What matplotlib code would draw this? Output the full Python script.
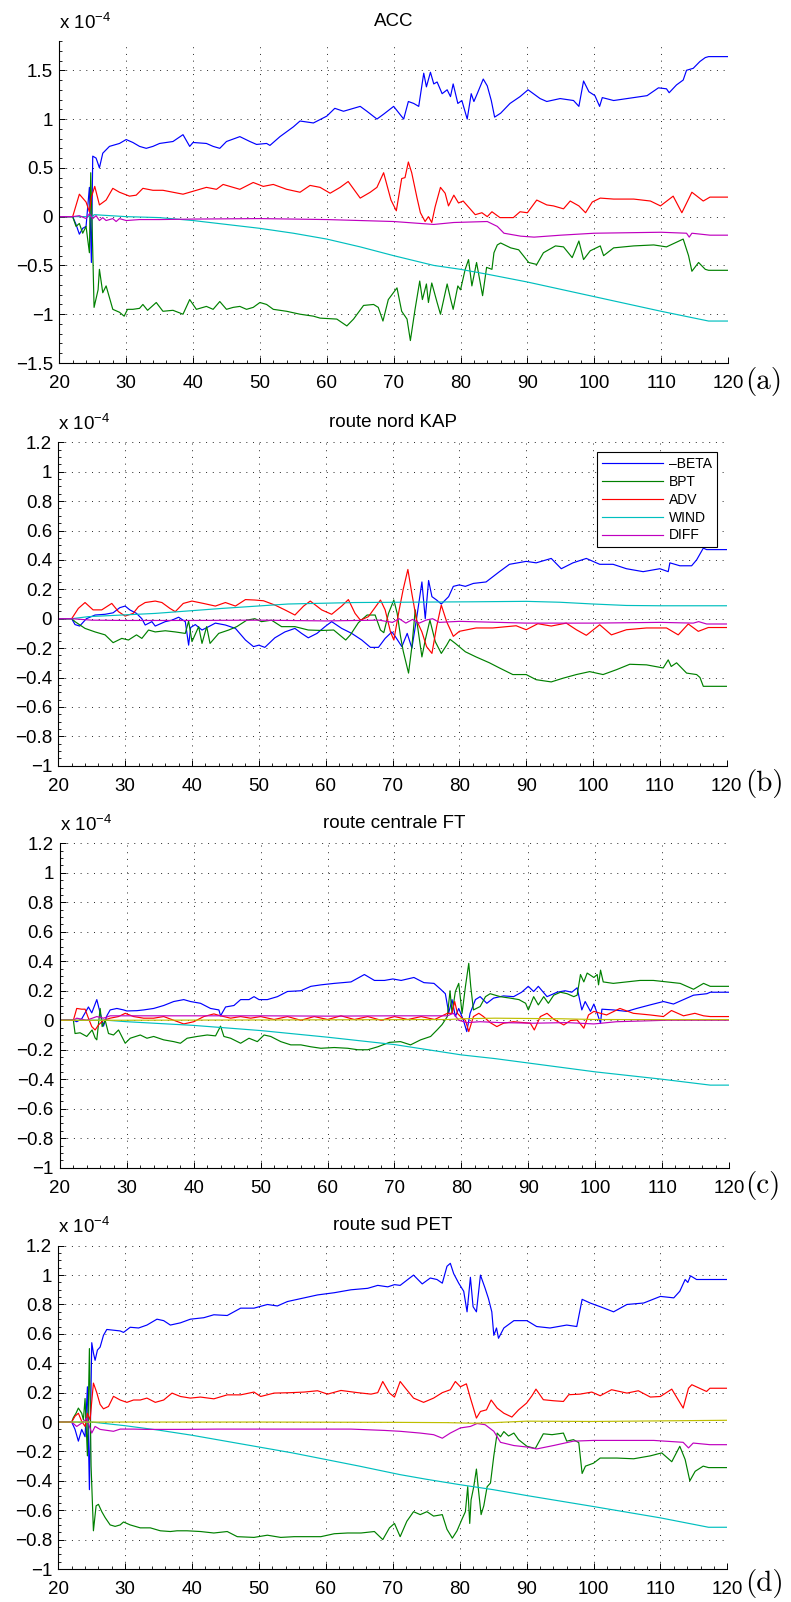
import numpy as np
import matplotlib
matplotlib.use('Agg')
import matplotlib.pyplot as plt
from matplotlib.ticker import FixedLocator, MultipleLocator, FuncFormatter

plt.rcParams['font.family'] = ['Liberation Sans', 'DejaVu Sans']
plt.rcParams['mathtext.fontset'] = 'custom'
plt.rcParams['mathtext.rm'] = 'Liberation Sans'
plt.rcParams['mathtext.it'] = 'Liberation Sans'

# values are in units of 1e-4, as (day, value) pairs
# ---- (a) ACC
acc_beta = [(20,0),(22,0),(22.5,-0.08),(23,-0.18),(23.5,-0.12),(24,-0.1),(24.5,0.3),(24.8,-0.47),(25,0.62),(25.5,0.6),(26,0.5),(26.5,0.65),(27.5,0.72),(29,0.75),(30,0.79),(31,0.76),(32,0.72),(33,0.7),(34,0.72),(35,0.75),(37,0.77),(38.5,0.84),(39.5,0.72),(40,0.76),(42,0.75),(43,0.72),(44,0.70),(45,0.77),(47,0.82),(48.5,0.77),(49.5,0.74),(51,0.75),(51.5,0.73),(53,0.82),(55,0.92),(56,0.98),(58,0.96),(60,1.03),(61.2,1.11),(62.5,1.08),(63.5,1.1),(65,1.13),(66,1.08),(67.5,1.0),(68.5,1.05),(70,1.13),(71.5,1.0),(72.2,1.18),(73,1.16),(73.75,1.13),(74.5,1.47),(74.9,1.33),(75.5,1.48),(76,1.36),(76.5,1.38),(77.25,1.26),(78,1.30),(78.5,1.23),(78.9,1.36),(79.6,1.16),(80.2,1.19),(81,1.0),(81.6,1.26),(82,1.18),(82.5,1.26),(83.4,1.41),(84,1.34),(84.6,1.19),(85.1,1.02),(86,1.06),(87.4,1.16),(88.9,1.23),(90.1,1.30),(91.9,1.21),(92.9,1.18),(94.9,1.21),(96.9,1.19),(97.7,1.13),(98.4,1.39),(99.2,1.28),(100.1,1.24),(100.8,1.13),(101.2,1.22),(102.9,1.19),(105.9,1.22),(107.9,1.24),(109.6,1.32),(110.8,1.31),(111.2,1.27),(112.3,1.35),(113.3,1.40),(113.8,1.5),(114.8,1.52),(115.8,1.59),(116.6,1.63),(117.1,1.64),(120,1.64)]
acc_bpt = [(20,0),(22,0),(22.5,-0.1),(23,-0.07),(23.5,-0.17),(24,-0.1),(24.5,-0.37),(24.7,0.45),(25,-0.35),(25.2,-0.93),(25.8,-0.75),(26,-0.54),(26.5,-0.78),(27,-0.71),(28,-0.95),(29,-0.98),(29.7,-1.02),(30.2,-0.95),(31,-0.95),(32,-0.94),(32.5,-0.9),(33.2,-0.96),(34.5,-0.88),(35.5,-0.97),(37,-0.96),(38.5,-1.0),(39.5,-0.85),(40.5,-0.95),(42,-0.92),(43,-0.95),(44,-0.87),(45,-0.95),(46,-0.93),(47,-0.92),(48,-0.95),(49,-0.93),(50,-0.88),(51,-0.9),(52,-0.95),(54,-0.97),(56,-1.0),(58,-1.02),(59,-1.04),(61.5,-1.05),(63,-1.12),(64,-1.05),(65.5,-0.91),(67,-0.9),(67.7,-0.93),(68.4,-1.07),(69.2,-0.85),(70.5,-0.73),(71.2,-0.97),(72,-1.05),(72.5,-1.27),(73.2,-0.95),(73.9,-0.66),(74.3,-0.85),(74.9,-0.69),(75.2,-0.88),(75.7,-0.68),(76.5,-0.88),(77,-1.0),(78,-0.69),(78.5,-0.84),(78.9,-0.95),(79.6,-0.71),(80,-0.75),(80.7,-0.54),(81.2,-0.44),(81.7,-0.71),(82.4,-0.47),(83.3,-0.81),(83.9,-0.52),(84.7,-0.54),(85,-0.37),(85.5,-0.29),(86,-0.27),(87.5,-0.32),(88.7,-0.34),(90.2,-0.47),(91.4,-0.49),(92.4,-0.37),(94.2,-0.3),(95.4,-0.31),(96.7,-0.42),(97.7,-0.25),(98.4,-0.44),(99.4,-0.35),(100.9,-0.3),(101.4,-0.4),(102.9,-0.32),(105.9,-0.3),(108.9,-0.29),(110.8,-0.31),(113.3,-0.23),(114.1,-0.4),(114.6,-0.56),(115.6,-0.47),(116.6,-0.54),(117.1,-0.55),(120,-0.55)]
acc_adv = [(20,0),(22,0),(23,0.23),(24,0.15),(24.5,0.05),(24.8,0.2),(25.3,0.31),(26,0.12),(27,0.17),(28,0.29),(29,0.25),(30.5,0.21),(31.5,0.22),(32.5,0.29),(34,0.27),(35.5,0.27),(37,0.25),(38.5,0.23),(40,0.26),(42,0.3),(43.5,0.28),(44.5,0.33),(47,0.28),(49,0.35),(50.5,0.31),(52,0.33),(54,0.28),(56,0.25),(57.5,0.32),(59,0.30),(60.5,0.24),(62,0.3),(63.2,0.36),(65,0.19),(66.5,0.25),(67.5,0.3),(68.5,0.45),(69.6,0.17),(70.4,0.06),(71.2,0.39),(71.7,0.4),(72.2,0.56),(72.7,0.45),(73.5,0.19),(74,0.04),(74.7,-0.05),(75.2,0.0),(75.7,-0.06),(76.2,0.1),(77,0.30),(77.7,0.24),(78.2,0.11),(79,0.22),(79.7,0.14),(80.4,0.16),(82.2,0.02),(83.2,0.04),(84,0.0),(84.7,0.05),(85.9,-0.01),(87.9,-0.01),(88.9,0.05),(90,0.04),(91.4,0.17),(92.9,0.12),(93.9,0.11),(95.4,0.08),(96.4,0.16),(97.7,0.11),(98.7,0.04),(99.7,0.15),(100.9,0.19),(102.9,0.18),(105.9,0.18),(108.4,0.16),(109.9,0.11),(111.8,0.21),(113.1,0.04),(114.6,0.25),(116.3,0.16),(117.3,0.2),(120,0.2)]
acc_wind = [(20,0),(25,0),(25.2,0.02),(30,0.0),(35,-0.01),(40,-0.04),(45,-0.08),(50,-0.12),(55,-0.17),(60,-0.23),(65,-0.31),(70,-0.40),(76,-0.50),(80,-0.54),(84,-0.59),(90,-0.67),(100,-0.82),(110,-0.97),(117.1,-1.07),(120,-1.07)]
acc_diff = [(20,0),(22,0),(23,0.01),(24,-0.02),(24.5,0.03),(25,-0.02),(25.5,0.01),(26,-0.04),(26.5,-0.01),(27,-0.04),(28,-0.02),(28.5,-0.05),(29,-0.02),(30,-0.04),(32,-0.03),(35,-0.03),(40,-0.025),(50,-0.02),(60,-0.03),(70,-0.05),(74,-0.07),(76,-0.08),(79,-0.06),(84,-0.05),(85.5,-0.1),(86.5,-0.17),(89,-0.2),(91,-0.21),(95,-0.19),(100,-0.17),(110,-0.16),(113.8,-0.17),(114.2,-0.21),(114.6,-0.17),(117.3,-0.19),(120,-0.19)]

# ---- (b) route nord KAP
kap_beta = [(20,0),(22,0),(22.5,-0.04),(23.2,-0.05),(24.2,0.0),(25.5,0.025),(27,0.03),(28.2,0.04),(29.2,0.075),(30,0.086),(30.7,0.06),(31.7,0.036),(32.5,0.0),(33,-0.043),(34,-0.02),(34.5,-0.05),(36,-0.02),(37,-0.01),(38,0.01),(39,-0.02),(39.5,-0.18),(39.8,-0.06),(40.5,-0.04),(41.5,-0.077),(42.5,-0.054),(43.5,-0.03),(45,-0.043),(46.5,-0.066),(48,-0.145),(49.2,-0.19),(50,-0.18),(50.9,-0.195),(52.4,-0.13),(53.9,-0.09),(55.4,-0.066),(56.4,-0.1),(57.4,-0.13),(58.7,-0.1),(59.9,-0.054),(60.9,-0.02),(62.4,-0.066),(63.9,-0.1),(65.4,-0.145),(66.7,-0.195),(67.9,-0.195),(68.9,-0.134),(69.9,-0.09),(70.4,-0.12),(71.4,-0.19),(72.2,-0.1),(72.9,-0.2),(73.6,0.0),(74.4,0.25),(74.9,0.0),(75.4,0.26),(75.9,0.15),(76.6,0.127),(77.3,0.10),(78.4,0.15),(79.1,0.22),(80,0.23),(80.9,0.22),(82.1,0.24),(84,0.25),(86,0.32),(87.5,0.37),(90,0.39),(91.5,0.38),(93.75,0.41),(95.25,0.34),(97,0.38),(99,0.41),(101,0.37),(103,0.37),(105,0.34),(107.5,0.32),(110,0.34),(111.25,0.32),(111.5,0.38),(113,0.36),(114.75,0.36),(115.5,0.4),(116.5,0.48),(117,0.47),(120,0.47)]
kap_bpt = [(20,0),(22,0),(22.5,-0.02),(24,-0.066),(25.5,-0.09),(27,-0.11),(28.2,-0.163),(29.5,-0.134),(30.5,-0.145),(31.7,-0.11),(32.5,-0.134),(33.5,-0.077),(34.5,-0.09),(36,-0.082),(37.5,-0.09),(39,-0.1),(39.5,-0.016),(40,-0.156),(41,-0.054),(41.5,-0.168),(42.2,-0.054),(42.7,-0.168),(44,-0.1),(45.5,-0.077),(46.7,-0.054),(48.2,-0.01),(49.4,0.0),(50.4,-0.02),(51.9,-0.01),(53.4,-0.054),(55.4,-0.054),(57.4,-0.077),(59.4,-0.08),(61.2,-0.077),(63,-0.145),(63.7,-0.11),(64.9,-0.027),(66.2,0.025),(67.4,0.025),(68.2,-0.077),(68.7,-0.095),(69.4,0.036),(70.2,0.127),(70.7,0.036),(71.2,-0.12),(71.6,-0.22),(72.4,-0.37),(72.9,-0.19),(73.4,0.06),(73.9,-0.1),(74.4,-0.26),(74.9,-0.145),(75.6,-0.01),(76.4,-0.156),(77.3,-0.236),(78.1,-0.18),(78.6,-0.14),(79.4,-0.168),(80.9,-0.225),(82.5,-0.26),(84.5,-0.3),(86,-0.335),(88,-0.38),(90,-0.38),(91.5,-0.415),(93.75,-0.43),(95.5,-0.405),(97.5,-0.38),(99.5,-0.36),(101.5,-0.38),(103.5,-0.347),(105.5,-0.31),(108,-0.314),(110.5,-0.335),(111.25,-0.28),(111.7,-0.325),(112.5,-0.3),(114,-0.37),(115.5,-0.38),(116,-0.4),(116.5,-0.46),(120,-0.46)]
kap_adv = [(20,0),(22,0),(23,0.07),(24,0.11),(25.2,0.06),(26.5,0.06),(28,0.104),(29,0.048),(30,0.018),(31.2,0.036),(32,0.082),(33,0.11),(34.5,0.12),(35.5,0.11),(36.7,0.07),(37.5,0.048),(38.7,0.104),(40,0.12),(41.7,0.104),(43.5,0.086),(45,0.11),(46.5,0.086),(48,0.13),(49.4,0.127),(50.7,0.122),(52.4,0.093),(53.9,0.06),(55.4,0.025),(56.7,0.086),(57.7,0.12),(59.4,0.06),(60.9,0.03),(62.4,0.086),(63.4,0.13),(64.4,0.036),(65.2,-0.01),(66.4,0.014),(68.2,0.127),(68.9,0.06),(69.7,-0.09),(70.2,-0.145),(71,0.06),(71.6,0.2),(72.3,0.335),(72.9,0.17),(73.6,-0.01),(74.4,-0.09),(75.1,-0.19),(75.9,-0.236),(76.6,-0.054),(77.3,0.093),(78.1,-0.02),(79.1,-0.12),(80,-0.086),(82.5,-0.063),(85,-0.063),(88.5,-0.048),(90,-0.075),(91.75,-0.034),(93.75,-0.05),(96,-0.03),(97.5,-0.075),(99,-0.113),(101,-0.041),(102.75,-0.11),(105,-0.075),(108,-0.063),(111,-0.063),(112.75,-0.11),(114.25,-0.036),(115.75,-0.086),(117.25,-0.06),(120,-0.06)]
kap_wind = [(20,0),(22,0),(24.5,0.014),(34.5,0.036),(44.5,0.07),(54.4,0.1),(64.4,0.11),(74.4,0.113),(82,0.115),(90,0.118),(95,0.112),(100,0.10),(105,0.09),(110,0.088),(117,0.088),(120,0.088)]
kap_diff = [(20,0),(22,0),(25,-0.01),(30,-0.012),(40,-0.012),(50,-0.01),(60,-0.015),(68,-0.01),(70,-0.025),(71,0.0),(72,-0.03),(73,-0.005),(74,-0.03),(75,-0.01),(76,0.0),(77,-0.025),(80,-0.018),(90,-0.03),(100,-0.03),(110,-0.025),(115,-0.03),(115.8,-0.02),(117,-0.036),(120,-0.036)]

# ---- (c) route centrale FT
ft_beta = [(20,0),(22,0),(22.5,-0.01),(23.25,0.01),(24.25,0.09),(24.75,0.05),(25.5,0.14),(26,0.05),(26.5,-0.04),(27,0.03),(27.5,0.07),(28.5,0.08),(29.5,0.07),(30,0.063),(31.5,0.065),(32.5,0.07),(34,0.08),(35.5,0.1),(37,0.127),(38.5,0.14),(39.5,0.127),(41,0.115),(42.5,0.08),(43.75,0.07),(44,0.03),(44.75,0.09),(46,0.1),(47,0.14),(48.25,0.14),(49,0.16),(49.75,0.14),(51,0.14),(52.5,0.16),(54,0.195),(56,0.2),(57.5,0.23),(59,0.24),(61,0.25),(63.5,0.26),(65.5,0.31),(67,0.27),(68.5,0.27),(69.75,0.28),(71,0.27),(72.9,0.29),(74.4,0.255),(75.9,0.25),(76.9,0.21),(77.6,0.18),(78.1,0.05),(78.6,0.14),(79.1,0.025),(79.6,0.08),(80.3,0.0),(80.8,-0.077),(81.3,0.047),(82.1,0.14),(82.8,0.16),(83.8,0.115),(84.8,0.15),(86.3,0.165),(87.8,0.16),(89,0.19),(90,0.23),(90.8,0.195),(91.5,0.23),(92.8,0.16),(94.3,0.19),(95.5,0.2),(96.5,0.19),(97.3,0.22),(98,0.07),(98.5,0.127),(99.3,0.06),(99.8,0.11),(100.3,0.047),(100.8,-0.02),(101,0.075),(102.7,0.07),(104.7,0.06),(106.2,0.08),(108.2,0.104),(110.2,0.127),(111.7,0.11),(113.2,0.14),(114.7,0.17),(116.7,0.18),(117.2,0.19),(120,0.19)]
ft_bpt = [(20,0),(22,0),(22.25,-0.09),(23,-0.085),(24,-0.11),(24.8,-0.066),(25.25,-0.12),(25.5,-0.133),(26,0.08),(26.3,-0.043),(26.75,0.0),(27.25,-0.09),(28,-0.1),(28.75,-0.066),(29.75,-0.156),(30.5,-0.122),(32,-0.1),(33,-0.122),(34,-0.11),(35.5,-0.133),(37,-0.145),(38,-0.156),(39,-0.122),(40.5,-0.11),(42,-0.1),(43.25,-0.106),(44,-0.04),(44.5,-0.11),(45.5,-0.122),(47,-0.156),(48.25,-0.122),(49.5,-0.145),(50.5,-0.1),(51.5,-0.11),(53,-0.145),(54.5,-0.167),(56,-0.167),(57.5,-0.18),(59,-0.19),(61,-0.185),(63,-0.19),(64.5,-0.2),(66,-0.2),(67.5,-0.18),(69.25,-0.15),(70.9,-0.145),(72.4,-0.167),(73.9,-0.133),(75.4,-0.11),(76.4,-0.064),(77.1,-0.03),(77.9,0.025),(78.3,0.2),(78.6,0.047),(79.1,0.195),(79.6,0.25),(80.1,0.047),(80.6,0.228),(81.1,0.386),(81.4,0.228),(81.8,0.07),(82.8,0.093),(83.6,0.16),(84.3,0.18),(85.8,0.16),(87.3,0.15),(88.6,0.14),(89.6,0.115),(90,0.07),(90.8,0.16),(91.5,0.104),(92.3,0.16),(93,0.115),(93.8,0.17),(94.8,0.19),(95.8,0.18),(96.8,0.16),(97.3,0.17),(97.8,0.31),(98.3,0.26),(98.8,0.32),(99.8,0.29),(100.3,0.31),(100.5,0.24),(100.8,0.34),(101.2,0.26),(102.7,0.25),(104.7,0.26),(106.7,0.27),(108.7,0.27),(110.7,0.26),(112.7,0.25),(114.7,0.21),(116.2,0.25),(117.2,0.23),(120,0.23)]
ft_adv = [(20,0),(22,0),(22.5,0.08),(23.25,0.075),(23.75,0.075),(24.25,0.014),(24.75,-0.043),(25.25,-0.066),(25.75,-0.032),(26.5,0.0),(27.5,0.014),(28.75,0.025),(29.75,0.047),(31,0.025),(32.5,0.014),(34,0.014),(35.5,0.025),(37,0.0),(38.5,-0.025),(40,-0.01),(41.5,0.025),(43,0.043),(44,0.03),(45.5,0.014),(47,0.025),(48.5,0.014),(50,0.025),(52,0.005),(54,0.025),(56,0.0),(58,0.025),(60,0.005),(62,0.03),(64,0.005),(66,0.025),(68,0.0),(70,0.025),(72,0.005),(74,0.025),(76,0.005),(77.9,0.047),(78.6,0.047),(79,0.127),(79.4,0.047),(80.1,0.014),(80.6,0.0),(81.1,-0.077),(81.8,0.025),(82.6,0.047),(83.3,0.025),(84.3,-0.016),(85.3,-0.043),(86.3,-0.02),(87.8,-0.01),(89.3,-0.016),(90.3,-0.02),(90.9,-0.066),(91.8,0.025),(92.8,0.047),(93.8,0.007),(95.3,-0.032),(96.3,-0.002),(97.3,0.002),(98.3,-0.054),(99,0.036),(99.8,0.06),(100.8,0.047),(101.7,0.036),(103.7,0.08),(105.7,0.047),(108.2,0.036),(110.2,0.025),(111.4,0.066),(113.2,0.03),(114.9,0.047),(116.2,0.03),(117.2,0.025),(120,0.025)]
ft_wind = [(20,0),(27,0),(30,-0.01),(40,-0.035),(50,-0.07),(60,-0.115),(65,-0.14),(70,-0.165),(75,-0.2),(80,-0.235),(85,-0.26),(90,-0.29),(100,-0.35),(110,-0.4),(117.2,-0.44),(120,-0.44)]
ft_diff = [(20,0),(22,0),(22.5,0.014),(24,0.0),(25.5,0.025),(26.5,0.014),(27.5,0.03),(40,0.03),(50,0.03),(60,0.028),(70,0.03),(77.9,0.03),(78.8,0.047),(79.6,0.0),(80.8,-0.016),(82.8,-0.01),(85.8,-0.016),(90.8,-0.02),(95.8,-0.016),(99.8,-0.025),(103.2,-0.01),(110.7,0.0),(117.2,0.0),(120,0.0)]
ft_resid = [(20,0),(30,0.0),(50,0.002),(70,0.004),(78,0.005),(80,0.01),(85,0.014),(95,0.01),(100,0.005),(110,0.004),(120,0.004)]

# ---- (d) route sud PET
pet_beta = [(20,0),(22,0),(22.5,-0.05),(23,-0.13),(23.5,-0.05),(24,-0.1),(24.35,0.24),(24.65,-0.46),(25,0.54),(25.25,0.47),(25.5,0.42),(25.85,0.49),(26.25,0.51),(26.75,0.59),(27.25,0.63),(28.25,0.625),(29.25,0.62),(29.75,0.61),(30.75,0.645),(32,0.64),(33.25,0.66),(34.75,0.70),(35.75,0.69),(36.75,0.66),(38.25,0.675),(39.75,0.70),(41.75,0.71),(43.25,0.73),(45.25,0.725),(47.25,0.775),(49.25,0.775),(51.25,0.80),(52.75,0.79),(54.25,0.82),(56.25,0.84),(58.75,0.865),(61.25,0.88),(63.75,0.90),(66.25,0.91),(67.75,0.93),(69.25,0.92),(70.25,0.935),(71.1,0.93),(73.1,1.0),(74.4,0.94),(75.6,0.98),(76.6,0.97),(77.4,0.945),(78.1,1.06),(78.6,1.08),(79.1,1.01),(79.85,0.945),(80.6,0.89),(81.1,0.75),(81.6,0.985),(82,0.785),(82.5,0.75),(83.1,1.0),(83.8,0.91),(84.3,0.84),(84.8,0.75),(85.1,0.59),(85.5,0.64),(85.8,0.57),(86.6,0.64),(88.1,0.69),(90.05,0.69),(91.5,0.65),(93.5,0.64),(96,0.66),(97.5,0.65),(98.3,0.835),(99.5,0.81),(101,0.785),(103,0.75),(105,0.8),(107.5,0.81),(110,0.855),(112,0.845),(112.9,0.89),(113.7,0.97),(114.1,0.95),(114.5,0.995),(115.4,0.97),(116.9,0.97),(120,0.97)]
pet_bpt = [(20,0),(22,0),(22.25,0.03),(22.65,0.06),(23,0.095),(23.5,0.06),(23.75,0.015),(24,0.16),(24.35,-0.23),(24.65,0.5),(24.9,-0.3),(25.25,-0.74),(25.65,-0.57),(26,-0.56),(26.5,-0.61),(27,-0.65),(27.75,-0.7),(28.5,-0.71),(29.25,-0.7),(29.75,-0.68),(30.75,-0.7),(32.25,-0.72),(33.75,-0.72),(35.25,-0.74),(36.75,-0.745),(37.75,-0.74),(39.25,-0.74),(41.25,-0.745),(43.25,-0.755),(45.25,-0.745),(46.75,-0.78),(49.25,-0.785),(51.25,-0.77),(53.25,-0.785),(55.25,-0.78),(57.25,-0.78),(59.25,-0.78),(61.25,-0.76),(63.25,-0.755),(65.25,-0.755),(67.25,-0.745),(68.5,-0.8),(69.5,-0.72),(70.25,-0.69),(71.1,-0.78),(72.1,-0.675),(73.1,-0.61),(74.1,-0.63),(75.1,-0.61),(76.1,-0.64),(77.4,-0.63),(78.1,-0.73),(78.9,-0.79),(79.6,-0.74),(80.35,-0.66),(80.85,-0.61),(81.2,-0.44),(81.5,-0.69),(81.7,-0.53),(82.1,-0.44),(82.5,-0.32),(82.8,-0.46),(83.2,-0.63),(83.6,-0.57),(84.1,-0.44),(84.6,-0.415),(85.1,-0.23),(85.6,-0.075),(86.1,-0.1),(86.6,-0.065),(87.3,-0.095),(88.1,-0.075),(88.8,-0.12),(90.05,-0.165),(91.3,-0.18),(92.5,-0.08),(93.8,-0.086),(95.5,-0.075),(96,-0.13),(97,-0.12),(97.8,-0.14),(98.3,-0.35),(98.8,-0.3),(100,-0.28),(101,-0.245),(103.5,-0.245),(106,-0.25),(108.5,-0.23),(110.2,-0.21),(111.7,-0.27),(112.9,-0.165),(113.7,-0.255),(114.4,-0.4),(115.2,-0.335),(116.4,-0.3),(117.2,-0.31),(120,-0.31)]
pet_adv = [(20,0),(22,0),(22.5,0.04),(23,0.06),(23.5,0.005),(24,-0.03),(24.35,0.06),(24.75,0.015),(25.25,0.265),(25.75,0.2),(26.25,0.12),(26.75,0.09),(27.5,0.106),(28.25,0.175),(29.25,0.15),(30.25,0.134),(31.25,0.15),(32.25,0.15),(33.25,0.163),(34.5,0.134),(35.75,0.15),(37,0.197),(38.25,0.174),(39.75,0.163),(41.25,0.17),(43.25,0.158),(45.25,0.185),(47.25,0.185),(49.25,0.204),(50.25,0.174),(52.25,0.197),(54.75,0.2),(56.75,0.204),(58.75,0.213),(60.25,0.19),(62.25,0.215),(64.75,0.2),(66.75,0.19),(67.75,0.2),(68.5,0.276),(69.5,0.197),(70.25,0.17),(71.1,0.276),(71.9,0.23),(73.1,0.163),(74.6,0.134),(76.1,0.163),(77.4,0.2),(78.6,0.22),(79.35,0.276),(80.1,0.24),(81,0.26),(81.6,0.163),(82.5,0.027),(83.1,0.072),(84,0.083),(84.7,0.15),(85.6,0.095),(86.6,0.06),(87.8,0.034),(88.8,0.083),(90,0.129),(90.8,0.179),(91.4,0.224),(92.5,0.152),(94,0.145),(95.5,0.14),(96.3,0.186),(98,0.19),(99.75,0.204),(101,0.179),(102.7,0.22),(105,0.197),(106.7,0.213),(108.5,0.17),(110,0.174),(111.7,0.224),(113.4,0.095),(114.2,0.23),(114.7,0.254),(116.9,0.208),(117.4,0.23),(120,0.23)]
pet_wind = [(20,0),(25,0),(30,-0.025),(35,-0.055),(40,-0.09),(45,-0.13),(50,-0.17),(55,-0.21),(60,-0.255),(65,-0.3),(71.1,-0.358),(75.1,-0.39),(80,-0.426),(85,-0.46),(90,-0.5),(100,-0.575),(110,-0.652),(117.2,-0.716),(120,-0.716)]
pet_diff = [(20,0),(22,0),(22.75,-0.03),(23.5,-0.007),(24.25,0.025),(24.65,-0.03),(25,-0.075),(25.5,-0.03),(26.25,-0.05),(28.25,-0.063),(29.25,-0.048),(31.25,-0.048),(33.25,-0.05),(38.75,-0.05),(43.75,-0.048),(48.75,-0.048),(53.75,-0.048),(58.75,-0.048),(63.75,-0.048),(68.75,-0.057),(71.1,-0.063),(74.1,-0.075),(76.1,-0.086),(77.4,-0.11),(78.6,-0.075),(80.1,-0.04),(81.6,-0.03),(82.6,-0.01),(83.8,-0.018),(85.1,-0.063),(86.1,-0.138),(88.1,-0.16),(90.05,-0.17),(91.5,-0.183),(94,-0.16),(97,-0.13),(100,-0.125),(104,-0.125),(109,-0.125),(113.4,-0.138),(114.2,-0.176),(114.9,-0.143),(117.4,-0.154),(120,-0.154)]
pet_resid = [(20,0),(30,0.0),(50,0.0),(70,-0.002),(78,-0.004),(82,-0.008),(85,-0.004),(90,0.006),(100,0.004),(110,0.008),(120,0.012)]

titles = ['ACC', 'route nord KAP', 'route centrale FT', 'route sud PET']
panel_tags = ['(a)', '(b)', '(c)', '(d)']
names = ['\u2013BETA', 'BPT', 'ADV', 'WIND', 'DIFF']
colors = ['#0000ff', '#008000', '#ff0000', '#00bfbf', '#bf00bf', '#bfbf00']
x_ticks = [20, 30, 40, 50, 60, 70, 80, 90, 100, 110, 120]
acc_yticks = [-1.5, -1, -0.5, 0, 0.5, 1, 1.5]
route_yticks = [-1, -0.8, -0.6, -0.4, -0.2, 0, 0.2, 0.4, 0.6, 0.8, 1, 1.2]

panels = [
    [acc_beta, acc_bpt, acc_adv, acc_wind, acc_diff],
    [kap_beta, kap_bpt, kap_adv, kap_wind, kap_diff],
    [ft_beta, ft_bpt, ft_adv, ft_wind, ft_diff, ft_resid],
    [pet_beta, pet_bpt, pet_adv, pet_wind, pet_diff, pet_resid],
]

W, H = 791, 1602
# axes boxes in pixels: left, right, top, bottom
boxes = [(59.3, 728, 41, 363), (58.3, 726.7, 442.3, 765.7),
         (60, 729, 843.3, 1167.7), (58.3, 727.3, 1245.7, 1569)]
tag_y = [382, 783, 1185, 1583]

fig = plt.figure(figsize=(W / 100, H / 100), dpi=100)


def tick_text(v, p):
    if abs(v) < 1e-9:
        return '0'
    return ('%g' % v).replace('-', '\u2212')


fmt = FuncFormatter(tick_text)

for i, series in enumerate(panels):
    l, r, t, b = boxes[i]
    ax = fig.add_axes([l / W, 1 - b / H, (r - l) / W, (b - t) / H])
    for j, s in enumerate(series):
        arr = np.array(s, dtype=float)
        lab = names[j] if j < len(names) else None
        ax.plot(arr[:, 0], arr[:, 1], color=colors[j], lw=0.85, label=lab)

    ax.set_xlim(20, 120)
    ax.xaxis.set_major_locator(FixedLocator(x_ticks))
    ax.xaxis.set_minor_locator(MultipleLocator(2))
    if i == 0:
        ax.set_ylim(-1.5, 1.8)
        ax.yaxis.set_major_locator(FixedLocator(acc_yticks))
        ax.yaxis.set_minor_locator(MultipleLocator(0.1))
    else:
        ax.set_ylim(-1, 1.2)
        ax.yaxis.set_major_locator(FixedLocator(route_yticks))
        ax.yaxis.set_minor_locator(MultipleLocator(0.05))
    ax.yaxis.set_major_formatter(fmt)

    ax.grid(True, which='major', color='0.15', lw=0.7, ls=(0, (1, 5.9)))
    ax.set_axisbelow(True)
    for sp in ['top', 'right']:
        ax.spines[sp].set_visible(False)
    for sp in ['left', 'bottom']:
        ax.spines[sp].set_linewidth(0.8)
    ax.tick_params(which='both', direction='in', labelsize=13.5)
    ax.tick_params(which='major', length=4, width=0.7)
    ax.tick_params(which='minor', length=2, width=0.6)
    ax.tick_params(axis='x', which='major', pad=8.5)
    ax.tick_params(axis='y', which='major', pad=4.5)

    ax.set_title(titles[i], fontsize=13.5, pad=11)
    ax.annotate('x 10$^{\\mathrm{-4}}$', xy=(0, 1), xycoords='axes fraction',
                xytext=(0, 6), textcoords='offset points',
                ha='left', va='bottom', fontsize=13.5)

    fig.text(745 / W, 1 - tag_y[i] / H, panel_tags[i], fontfamily='cmr10',
             fontsize=21, ha='left', va='center')

    if i == 1:
        leg = ax.legend(loc='upper right', bbox_to_anchor=(0.9855, 0.970),
                        borderaxespad=0, fontsize=10, handlelength=4.4,
                        handletextpad=0.45, labelspacing=0.28, borderpad=0.35,
                        fancybox=False, framealpha=1, edgecolor='k')
        leg.get_frame().set_linewidth(0.8)

fig.savefig('out.png', dpi=100)
